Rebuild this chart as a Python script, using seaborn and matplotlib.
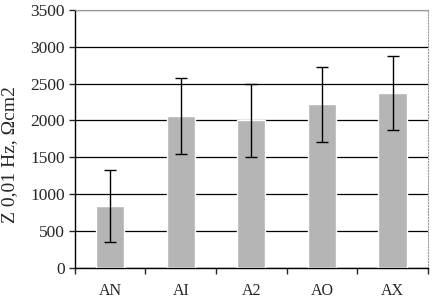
import numpy as np
import pandas as pd
import seaborn as sns
import matplotlib.pyplot as plt

samples = ["AN", "AI", "A2", "AO", "AX"]
z_values = [840, 2060, 2000, 2220, 2370]
z_errors = [490, 510, 495, 510, 505]

sns.set_style("white")
plt.rcParams['font.family'] = ['Liberation Serif', 'DejaVu Serif']

df = pd.DataFrame({"sample": samples, "z": z_values})

fig = plt.figure(figsize=(4.33, 3.01), dpi=100)
ax = fig.add_axes([0.173, 0.11, 0.815, 0.857])

sns.barplot(df, x="sample", y="z", color="#b5b5b5", saturation=1,
            width=0.4, errorbar=None, ax=ax, zorder=3)
ax.errorbar(np.arange(len(samples)), z_values, yerr=z_errors, fmt="none",
            ecolor="black", elinewidth=1, capsize=4, capthick=1, zorder=4)

ax.set_ylim(0, 3500)
ax.set_xlim(-0.5, len(samples) - 0.5)
ax.set_yticks(np.arange(0, 3501, 500))
ax.yaxis.grid(True, color="black", linewidth=0.9, zorder=0)
ax.set_axisbelow(True)

ax.set_xticks(np.arange(len(samples)))
ax.set_xticklabels(samples, fontsize=11.5)
ax.set_xticks(np.arange(-0.5, len(samples)), minor=True)
ax.tick_params(axis="x", which="major", length=0, pad=11)
ax.tick_params(axis="x", which="minor", length=4, width=1, direction="out", bottom=True)
ax.tick_params(axis="y", length=4, width=1, direction="out", left=True, labelsize=12.5, pad=3)

ax.set_xlabel("")
ax.set_ylabel("Z 0,01 Hz, \u03a9cm2", fontsize=14)
ax.yaxis.set_label_coords(-0.16, 0.44)

for side in ["left", "bottom"]:
    ax.spines[side].set_color("black")
    ax.spines[side].set_linewidth(1)
ax.spines["top"].set_color("#999999")
ax.spines["right"].set_color("#999999")
ax.spines["right"].set_linestyle(":")

fig.savefig("out.png", dpi=100)
